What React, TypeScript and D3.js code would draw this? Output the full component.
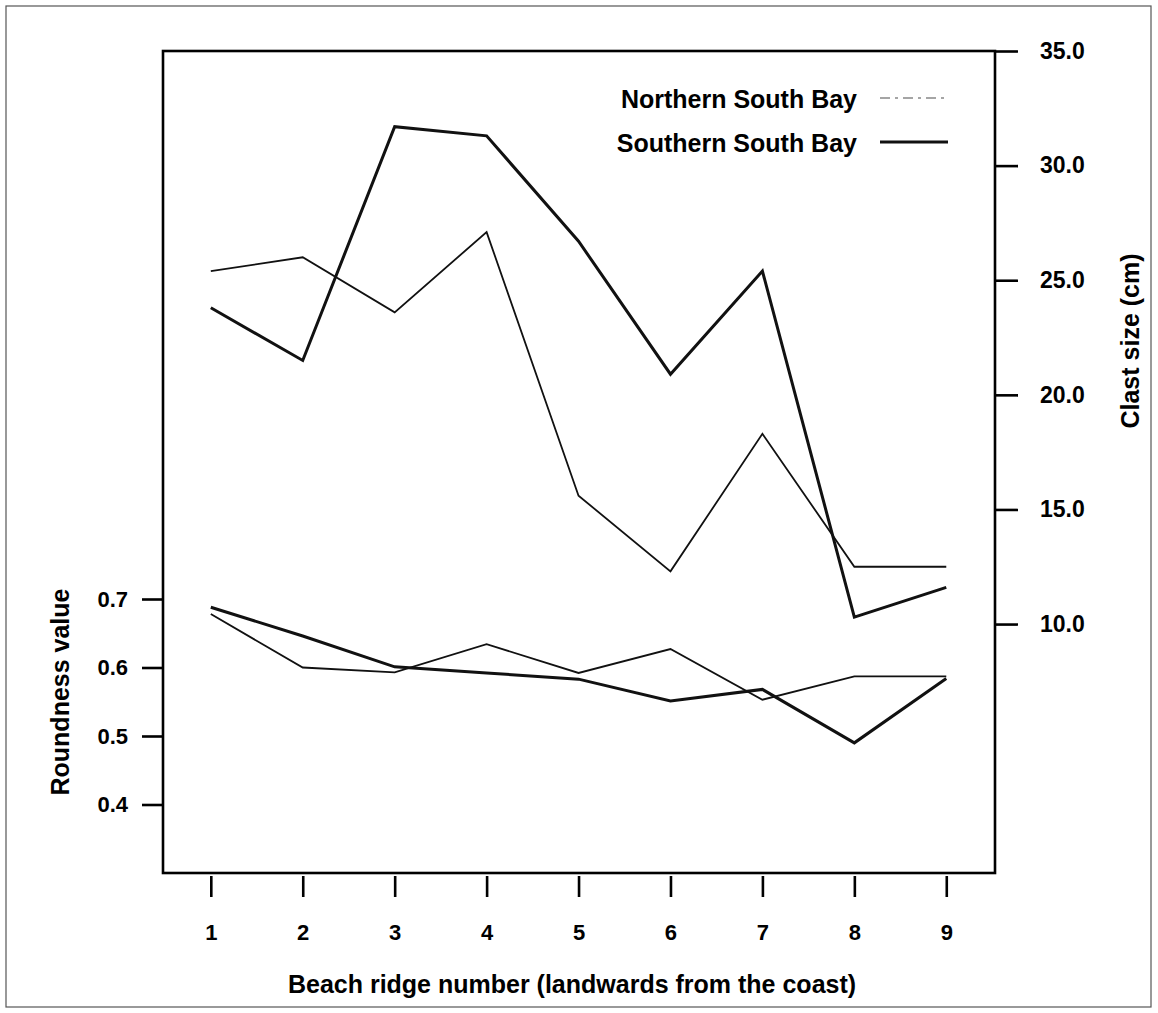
import React, { useRef, useEffect } from "react";
import * as d3 from "d3";

const ridges = [1, 2, 3, 4, 5, 6, 7, 8, 9];
const northernClast = [25.4, 26.0, 23.6, 27.1, 15.6, 12.3, 18.3, 12.5, 12.5];
const southernClast = [23.8, 21.5, 31.7, 31.3, 26.7, 20.9, 25.4, 10.3, 11.6];
const northernRound = [0.678, 0.6, 0.593, 0.634, 0.592, 0.627, 0.553, 0.587, 0.587];
const southernRound = [0.688, 0.646, 0.601, 0.592, 0.583, 0.551, 0.568, 0.49, 0.584];
const roundTicks = [0.4, 0.5, 0.6, 0.7];
const clastTicks = [10, 15, 20, 25, 30, 35];
const seriesNames = ["Northern South Bay", "Southern South Bay"];

const FONT = "'Liberation Sans', Arial, Helvetica, sans-serif";

const App = () => {
  const svgRef = useRef<SVGSVGElement>(null);

  useEffect(() => {
    const svg = d3.select(svgRef.current);
    svg.selectAll("*").remove();

    const width = 1158;
    const height = 1013;
    const box = { left: 163, top: 51, right: 995, bottom: 873 };

    const x = d3.scaleLinear().domain([0.48, 9.53]).range([box.left, box.right]);
    const yL = d3.scaleLinear().domain([0.3, 1.5]).range([box.bottom, box.top]);
    const yR = d3.scaleLinear().domain([-0.86, 35]).range([box.bottom, box.top]);

    // outer frame
    svg
      .append("rect")
      .attr("x", 6)
      .attr("y", 6)
      .attr("width", width - 13)
      .attr("height", height - 12)
      .attr("fill", "none")
      .attr("stroke", "#555")
      .attr("stroke-width", 1.2);

    // lines
    const drawLine = (vals: number[], y: d3.ScaleLinear<number, number>, w: number) => {
      const line = d3
        .line<number>()
        .x((_, i) => x(ridges[i]))
        .y((d) => y(d));
      svg
        .append("path")
        .attr("d", line(vals))
        .attr("fill", "none")
        .attr("stroke", "#111")
        .attr("stroke-width", w)
        .attr("stroke-linejoin", "miter");
    };
    drawLine(northernClast, yR, 1.8);
    drawLine(southernClast, yR, 3);
    drawLine(northernRound, yL, 1.8);
    drawLine(southernRound, yL, 3);

    // plot box
    svg
      .append("rect")
      .attr("x", box.left)
      .attr("y", box.top)
      .attr("width", box.right - box.left)
      .attr("height", box.bottom - box.top)
      .attr("fill", "none")
      .attr("stroke", "#000")
      .attr("stroke-width", 2.6);

    const styleAxis = (g: any, size: number) => {
      g.select(".domain").remove();
      g.selectAll("line").attr("stroke", "#000").attr("stroke-width", 2.6);
      g.selectAll("text")
        .attr("fill", "#000")
        .style("font-family", FONT)
        .style("font-weight", "bold")
        .style("font-size", size + "px");
    };

    svg
      .append("g")
      .attr("transform", `translate(0,${box.bottom + 3})`)
      .call(d3.axisBottom(x).tickValues(ridges).tickSize(21).tickPadding(27).tickFormat(d3.format("d")))
      .call((g) => styleAxis(g, 22));

    svg
      .append("g")
      .attr("transform", `translate(${box.left},0)`)
      .call(d3.axisLeft(yL).tickValues(roundTicks).tickSize(21).tickPadding(14).tickFormat(d3.format(".1f")))
      .call((g) => styleAxis(g, 22));

    svg
      .append("g")
      .attr("transform", `translate(${box.right},0)`)
      .call(d3.axisRight(yR).tickValues(clastTicks).tickSize(23).tickPadding(22).tickFormat(d3.format(".1f")))
      .call((g) => styleAxis(g, 23));

    const label = (txt: string, tx: number, ty: number, rot: number, anchor = "middle") =>
      svg
        .append("text")
        .attr("transform", `translate(${tx},${ty}) rotate(${rot})`)
        .attr("text-anchor", anchor)
        .attr("fill", "#000")
        .style("font-family", FONT)
        .style("font-weight", "bold")
        .style("font-size", "25px")
        .text(txt);

    label("Beach ridge number (landwards from the coast)", 572, 993, 0);
    label("Roundness value", 69, 692, -90);
    label("Clast size (cm)", 1139, 341, -90);

    // legend
    const legendY = [108, 152];
    seriesNames.forEach((name, i) => {
      label(name, 857, legendY[i], 0, "end");
      svg
        .append("line")
        .attr("x1", 880)
        .attr("x2", 948)
        .attr("y1", legendY[i] - 10)
        .attr("y2", legendY[i] - 10)
        .attr("stroke", i === 0 ? "#888" : "#111")
        .attr("stroke-width", i === 0 ? 1.6 : 3)
        .attr("stroke-dasharray", i === 0 ? "10 5 3 5" : null);
    });
  }, []);

  return (
    <svg
      ref={svgRef}
      width={1158}
      height={1013}
      style={{ position: "absolute", left: 0, top: 0, background: "#fff" }}
    />
  );
};

export default App;
